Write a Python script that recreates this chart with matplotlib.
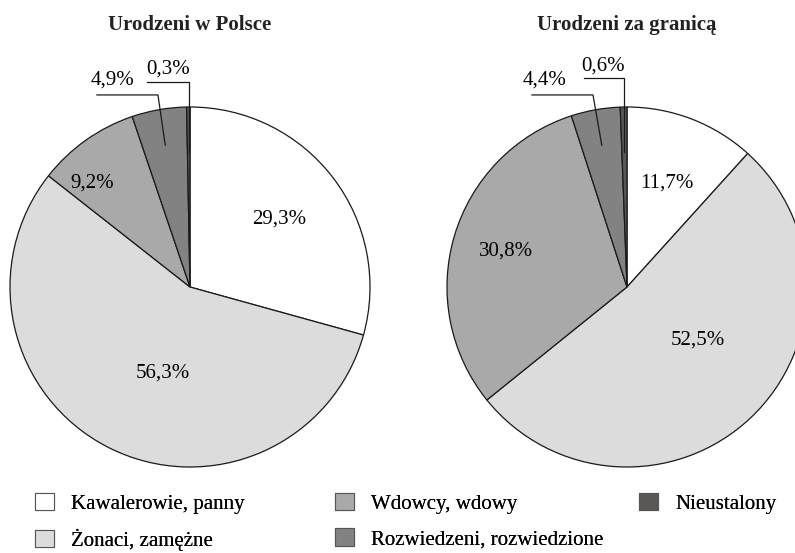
import numpy as np
import matplotlib
matplotlib.use("Agg")
import matplotlib.pyplot as plt
from matplotlib.patches import Patch

plt.rcParams['font.family'] = ['Liberation Serif', 'DejaVu Serif']

categories = ['Kawalerowie, panny', 'Żonaci, zamężne', 'Wdowcy, wdowy',
              'Rozwiedzeni, rozwiedzione', 'Nieustalony']
poland = [29.3, 56.3, 9.2, 4.9, 0.3]
abroad = [11.7, 52.5, 30.8, 4.4, 0.6]
titles = ['Urodzeni w Polsce', 'Urodzeni za granicą']
colors = ['#ffffff', '#dcdcdc', '#a9a9a9', '#828282', '#5b5757']

W, H = 795, 553
fig = plt.figure(figsize=(W / 100, H / 100), dpi=100)

def px_axes(cx, cy, r):
    return fig.add_axes([(cx - r) / W, (H - cy - r) / H, 2 * r / W, 2 * r / H])

# label placement per slice: (radius, angle shift) for inside labels,
# None for labels drawn outside with a leader line
inside_left = [(0.62, 0), (0.50, 9), (0.79, 8), None, None]
inside_right = [(0.62, 0), (0.49, 10), (0.70, 0), None, None]
# leader: (start radius, elbow xy, line end x, text xy)
leader_left = {3: (0.8, (-0.178, 1.067), -0.517, (-0.43, 1.15)),
               4: (0.75, None, -0.24, (-0.12, 1.21))}
leader_right = {3: (0.8, (-0.189, 1.067), -0.528, (-0.456, 1.15)),
                4: (0.75, None, -0.24, (-0.133, 1.23))}

def fmt(v):
    return f'{v:.1f}%'.replace('.', ',')

for vals, title, cx, inside, leader in [
        (poland, titles[0], 190, inside_left, leader_left),
        (abroad, titles[1], 627, inside_right, leader_right)]:
    ax = px_axes(cx, 287, 180)
    wedges, _ = ax.pie(vals, colors=colors, startangle=90, counterclock=False,
                       radius=1, wedgeprops=dict(edgecolor='#1a1a1a', linewidth=0.9))
    ax.set_xlim(-1, 1)
    ax.set_ylim(-1, 1)
    ax.set_aspect('equal')
    ax.axis('off')
    for i, w in enumerate(wedges):
        mid = np.deg2rad((w.theta1 + w.theta2) / 2)
        if inside[i] is not None:
            r, shift = inside[i]
            a = mid + np.deg2rad(shift)
            ax.text(r * np.cos(a), r * np.sin(a), fmt(vals[i]), ha='center',
                    va='center', fontsize=15)
        else:
            r0, elbow, xend, txy = leader[i]
            x0, y0 = r0 * np.cos(mid), r0 * np.sin(mid)
            if elbow is None:
                ytop = txy[1] - 0.07
                xs, ys = [x0, x0, xend], [y0, ytop, ytop]
            else:
                xs, ys = [x0, elbow[0], xend], [y0, elbow[1], elbow[1]]
            ax.plot(xs, ys, color='#1a1a1a', lw=0.9, clip_on=False)
            ax.text(txy[0], txy[1], fmt(vals[i]), ha='center', va='center',
                    fontsize=15)
    fig.text(cx / W, 1 - 25 / H, title, ha='center', va='center',
             fontsize=15, fontweight='bold', color='#222222')

handles = [Patch(facecolor=c, edgecolor='#555555', linewidth=0.8) for c in colors]
groups = [([0, 1], 35), ([2, 3], 335), ([4], 639)]
for idx, x in groups:
    leg = fig.legend([handles[i] for i in idx], [categories[i] for i in idx],
                     loc='upper left', bbox_to_anchor=(x / W, 1 - 493 / H),
                     frameon=False, fontsize=15, handlelength=0.9,
                     handleheight=0.9, handletextpad=0.85, labelspacing=0.7,
                     borderpad=0, borderaxespad=0)
    fig.add_artist(leg)

fig.savefig('out.png', dpi=100)
